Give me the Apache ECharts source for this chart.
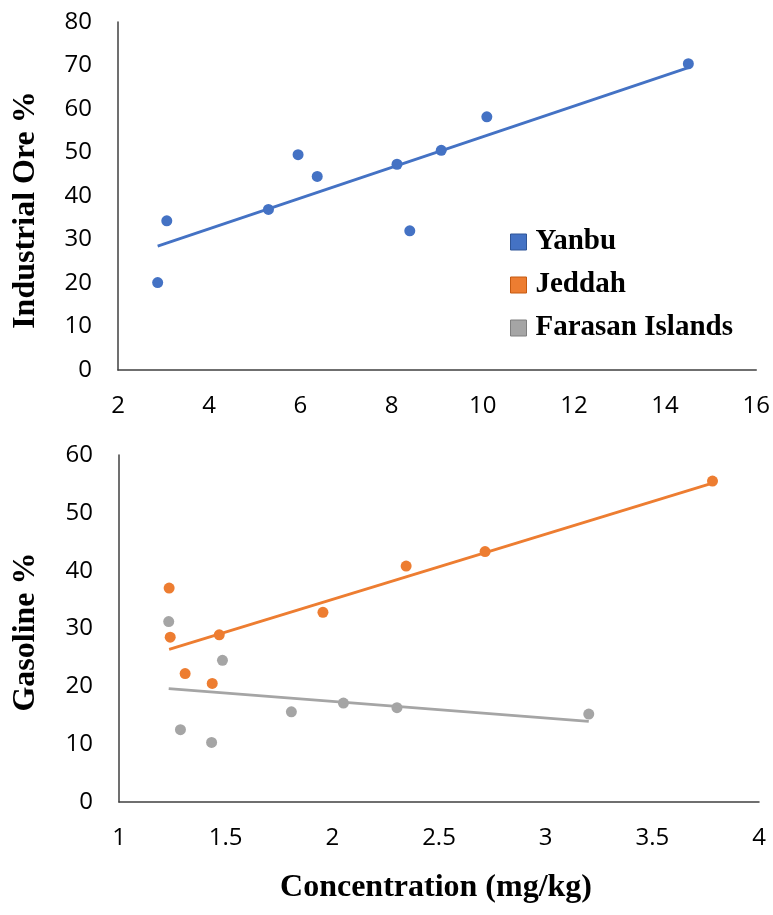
<!DOCTYPE html>
<html>
<head>
<meta charset="utf-8">
<script src="https://cdn.jsdelivr.net/npm/echarts@6/dist/echarts.min.js"></script>
<style>
html,body{margin:0;padding:0;background:#fff;}
#chart{width:773px;height:915px;}
</style>
</head>
<body>
<div id="chart"></div>
<script>
// ---- Data ----
const seriesNames = ['Yanbu', 'Jeddah', 'Farasan Islands'];
const yanbuX = [2.87, 3.07, 5.30, 5.95, 6.37, 8.12, 8.40, 9.09, 10.09, 14.51];
const yanbuY = [20.1, 34.3, 36.9, 49.5, 44.5, 47.3, 32.0, 50.5, 58.2, 70.4];
const jeddahX = [1.235, 1.24, 1.47, 1.31, 1.437, 1.956, 2.346, 2.716, 3.782];
const jeddahY = [37.0, 28.5, 28.9, 22.2, 20.5, 32.8, 40.8, 43.3, 55.5];
const farasanX = [1.233, 1.485, 1.288, 1.434, 1.808, 2.052, 2.303, 3.202];
const farasanY = [31.2, 24.5, 12.5, 10.3, 15.6, 17.1, 16.3, 15.2];
const topXTicks = [2, 4, 6, 8, 10, 12, 14, 16];
const topYTicks = [0, 10, 20, 30, 40, 50, 60, 70, 80];
const botXTicks = [1, 1.5, 2, 2.5, 3, 3.5, 4];
const botYTicks = [0, 10, 20, 30, 40, 50, 60];
const topYTitle = 'Industrial Ore %';
const botYTitle = 'Gasoline %';
const xTitle = 'Concentration (mg/kg)';

const colors = ['#4472C4', '#ED7D31', '#A5A5A5'];
const borders = ['#2F5597', '#C55A11', '#7F7F7F'];

function pts(xs, ys) { return xs.map((x, i) => [x, ys[i]]); }
function trend(xs, ys) {
  const n = xs.length;
  const mx = xs.reduce((a, b) => a + b, 0) / n;
  const my = ys.reduce((a, b) => a + b, 0) / n;
  let sxy = 0, sxx = 0;
  for (let i = 0; i < n; i++) { sxy += (xs[i] - mx) * (ys[i] - my); sxx += (xs[i] - mx) ** 2; }
  const b = sxy / sxx, a = my - b * mx;
  const x0 = Math.min(...xs), x1 = Math.max(...xs);
  return [[x0, a + b * x0], [x1, a + b * x1]];
}

const tickFont = { fontFamily: 'Open Sans', fontSize: 24, color: '#000' };
const axisLine = { show: true, lineStyle: { color: '#404040', width: 1.5 } };
function xAx(ticks, gi) {
  return {
    type: 'value', gridIndex: gi, min: ticks[0], max: ticks[ticks.length - 1],
    interval: ticks[1] - ticks[0],
    axisLine: axisLine, axisTick: { show: false }, splitLine: { show: false },
    axisLabel: Object.assign({ margin: 24 }, tickFont)
  };
}
function yAx(ticks, gi) {
  return {
    type: 'value', gridIndex: gi, min: ticks[0], max: ticks[ticks.length - 1],
    interval: ticks[1] - ticks[0],
    axisLine: axisLine, axisTick: { show: false }, splitLine: { show: false },
    axisLabel: Object.assign({ margin: 26 }, tickFont)
  };
}

const chart = echarts.init(document.getElementById('chart'), null, { renderer: 'canvas' });
const titleFont = 'bold 32px "Liberation Serif"';
chart.setOption({
  animation: false,
  backgroundColor: '#fff',
  grid: [
    { left: 118, width: 639, top: 22, height: 348 },
    { left: 119, width: 640, top: 455, height: 347 }
  ],
  xAxis: [xAx(topXTicks, 0), xAx(botXTicks, 1)],
  yAxis: [yAx(topYTicks, 0), yAx(botYTicks, 1)],
  legend: {
    data: seriesNames.map((n, i) => ({ name: n, itemStyle: { color: colors[i], borderColor: borders[i], borderWidth: 1 } })),
    orient: 'vertical', left: 505, top: 222, icon: 'rect',
    itemWidth: 16, itemHeight: 16, itemGap: 13,
    textStyle: { fontFamily: 'Liberation Serif', fontWeight: 'bold', fontSize: 29, color: '#000', lineHeight: 30, padding: [0, 0, 0, 4] }
  },
  graphic: [
    { type: 'text', x: 26, y: 210, rotation: Math.PI / 2, style: { text: topYTitle, font: titleFont, fill: '#000', align: 'center', verticalAlign: 'middle' } },
    { type: 'text', x: 26, y: 632, rotation: Math.PI / 2, style: { text: botYTitle, font: titleFont, fill: '#000', align: 'center', verticalAlign: 'middle' } },
    { type: 'text', x: 436, y: 888, style: { text: xTitle, font: titleFont, fill: '#000', align: 'center', verticalAlign: 'middle' } }
  ],
  series: [
    { name: 'Yanbu trend', type: 'line', xAxisIndex: 0, yAxisIndex: 0, data: trend(yanbuX, yanbuY), symbol: 'none', lineStyle: { color: colors[0], width: 2.8 }, silent: true },
    { name: 'Jeddah trend', type: 'line', xAxisIndex: 1, yAxisIndex: 1, data: trend(jeddahX, jeddahY), symbol: 'none', lineStyle: { color: colors[1], width: 2.8 }, silent: true },
    { name: 'Farasan trend', type: 'line', xAxisIndex: 1, yAxisIndex: 1, data: trend(farasanX, farasanY), symbol: 'none', lineStyle: { color: colors[2], width: 2.8 }, silent: true },
    { name: 'Yanbu', type: 'scatter', xAxisIndex: 0, yAxisIndex: 0, data: pts(yanbuX, yanbuY), symbolSize: 11, itemStyle: { color: colors[0], opacity: 1 } },
    { name: 'Jeddah', type: 'scatter', xAxisIndex: 1, yAxisIndex: 1, data: pts(jeddahX, jeddahY), symbolSize: 11, itemStyle: { color: colors[1], opacity: 1 } },
    { name: 'Farasan Islands', type: 'scatter', xAxisIndex: 1, yAxisIndex: 1, data: pts(farasanX, farasanY), symbolSize: 11, itemStyle: { color: colors[2], opacity: 1 } }
  ]
});
</script>
</body>
</html>
